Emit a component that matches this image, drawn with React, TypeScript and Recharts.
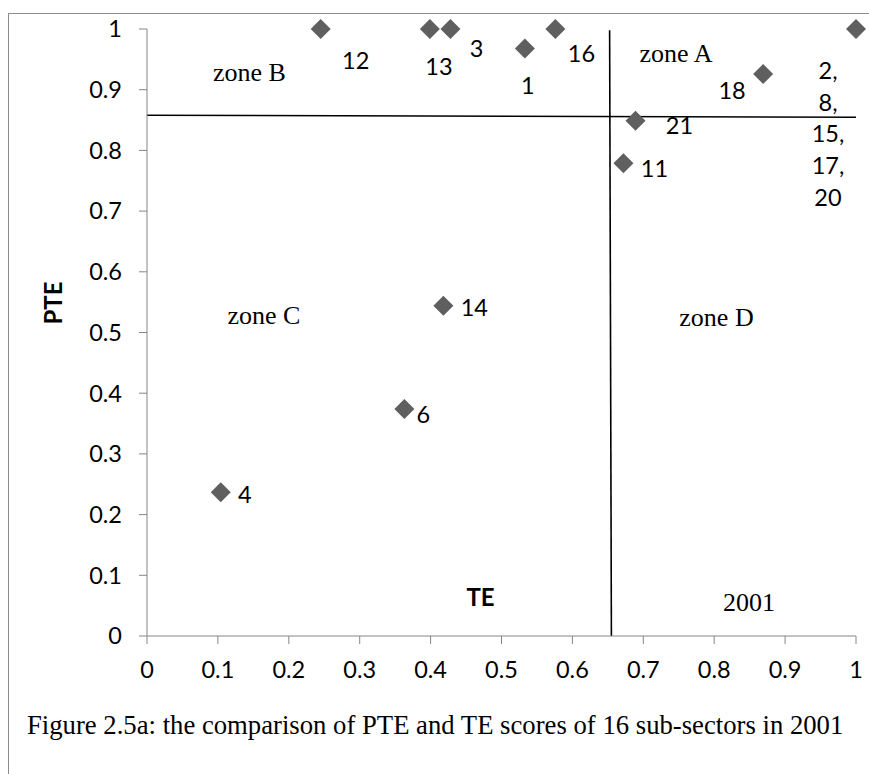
import React from 'react';
import { ScatterChart, Scatter, XAxis, YAxis, ReferenceLine } from 'recharts';

// sub-sector labels and their scores (2001)
const SECTORS = ['12', '13', '3', '1', '16', '18', '21', '11', '14', '6', '4', '2,|8,|15,|17,|20'];
const TE = [0.245, 0.399, 0.428, 0.533, 0.576, 0.869, 0.689, 0.672, 0.418, 0.363, 0.104, 1.0];
const PTE = [1.0, 1.0, 1.0, 0.968, 1.0, 0.926, 0.849, 0.779, 0.544, 0.374, 0.237, 1.0];

const AXIS_TICKS = [0, 0.1, 0.2, 0.3, 0.4, 0.5, 0.6, 0.7, 0.8, 0.9, 1];

// zone dividers
const PTE_CUT = [{ x: 0, y: 0.858 }, { x: 1, y: 0.8546 }];
const TE_CUT = [{ x: 0.6525, y: 0.998 }, { x: 0.655, y: 0 }];

// label placement, relative to the marker (px)
const LABEL_OFFSET: Record<string, [number, number]> = {
  '12': [35, 31],
  '13': [9, 37],
  '3': [26, 19],
  '1': [3, 37],
  '16': [26, 24],
  '18': [-31, 16],
  '21': [44, 4],
  '11': [31, 5],
  '14': [31, 1],
  '6': [19, 5],
  '4': [24, 2],
  '2,|8,|15,|17,|20': [-28, 41],
};

const data = SECTORS.map((s, i) => ({ label: s, te: TE[i], pte: PTE[i] }));

const SANS = 'Lato, "Open Sans", sans-serif';
const SERIF = '"Liberation Serif", "Times New Roman", serif';

const Diamond = (props: any) => {
  const { cx, cy, payload } = props;
  if (cx == null || cy == null) return null;
  const r = 10;
  const [dx, dy] = LABEL_OFFSET[payload.label] || [25, 0];
  const lines = String(payload.label).split('|');
  return (
    <g>
      <polygon
        points={`${cx},${cy - r} ${cx + r},${cy} ${cx},${cy + r} ${cx - r},${cy}`}
        fill="#5f5f5f"
      />
      <text
        x={cx + dx}
        y={cy + dy}
        textAnchor="middle"
        dominantBaseline="central"
        fontFamily={SANS}
        fontSize={23.5}
        fill="#000"
      >
        {lines.map((ln, k) => (
          <tspan key={k} x={cx + dx} dy={k === 0 ? 0 : 31.7}>
            {ln}
          </tspan>
        ))}
      </text>
    </g>
  );
};

const Note = ({ x, y, children, style }: any) => (
  <div
    style={{
      position: 'absolute',
      left: x,
      top: y,
      transform: 'translate(-50%, -50%)',
      whiteSpace: 'nowrap',
      lineHeight: 1,
      ...style,
    }}
  >
    {children}
  </div>
);

const zoneStyle = { fontFamily: SERIF, fontSize: 26, color: '#000' };

export default function App() {
  return (
    <div
      style={{
        position: 'absolute',
        left: 0,
        top: 0,
        width: 869,
        height: 774,
        overflow: 'hidden',
        background: '#fff',
      }}
    >
      <div
        style={{
          position: 'absolute',
          left: 8,
          top: 13,
          width: 1000,
          height: 1000,
          border: '1.5px solid #8c8c8c',
        }}
      />
      <div style={{ position: 'absolute', left: 0, top: 0 }}>
        <ScatterChart
          width={869}
          height={774}
          margin={{ top: 29, right: 13, bottom: 108, left: 87 }}
        >
          <XAxis
            type="number"
            dataKey="te"
            domain={[0, 1]}
            ticks={AXIS_TICKS}
            height={30}
            tickSize={8}
            tickMargin={17}
            stroke="#868686"
            tick={{ fontFamily: SANS, fontSize: 23.5, fill: '#000' }}
          />
          <YAxis
            type="number"
            dataKey="pte"
            domain={[0, 1]}
            ticks={AXIS_TICKS}
            width={60}
            tickSize={8}
            tickMargin={17}
            stroke="#868686"
            tick={{ fontFamily: SANS, fontSize: 23.5, fill: '#000' }}
          />
          <ReferenceLine segment={PTE_CUT} stroke="#000" strokeWidth={1.6} ifOverflow="visible" />
          <ReferenceLine segment={TE_CUT} stroke="#000" strokeWidth={1.6} ifOverflow="visible" />
          <Scatter data={data} shape={Diamond} isAnimationActive={false} />
        </ScatterChart>
      </div>

      <Note x={249.5} y={73} style={zoneStyle}>zone B</Note>
      <Note x={676} y={54} style={zoneStyle}>zone A</Note>
      <Note x={264} y={316} style={zoneStyle}>zone C</Note>
      <Note x={716.5} y={318} style={zoneStyle}>zone D</Note>
      <Note x={749} y={603} style={{ ...zoneStyle, fontSize: 26 }}>2001</Note>
      <Note x={480.5} y={597} style={{ fontFamily: SANS, fontSize: 24, fontWeight: 700 }}>TE</Note>
      <Note
        x={53}
        y={303}
        style={{
          fontFamily: SANS,
          fontSize: 24,
          fontWeight: 700,
          transform: 'translate(-50%, -50%) rotate(-90deg)',
        }}
      >
        PTE
      </Note>
      <div
        style={{
          position: 'absolute',
          left: 27,
          top: 725,
          transform: 'translateY(-50%)',
          fontFamily: SERIF,
          fontSize: 26.7,
          lineHeight: 1,
          whiteSpace: 'nowrap',
          color: '#000',
        }}
      >
        Figure 2.5a: the comparison of PTE and TE scores of 16 sub-sectors in 2001
      </div>
    </div>
  );
}
